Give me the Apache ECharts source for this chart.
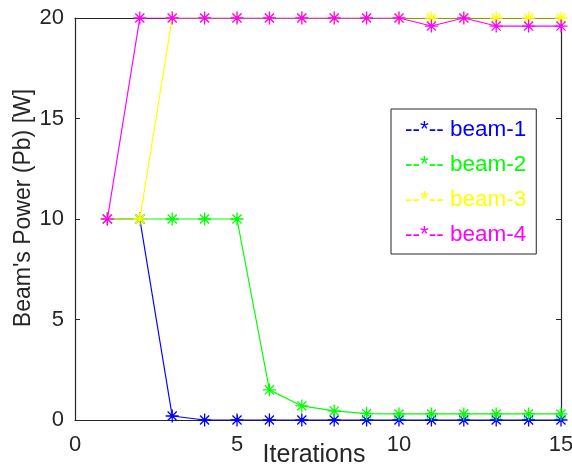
<!DOCTYPE html>
<html>
<head>
<meta charset="utf-8">
<script src="https://cdn.jsdelivr.net/npm/echarts@6/dist/echarts.min.js"></script>
<style>
  html, body { margin: 0; padding: 0; background: #fff; }
  #chart { width: 572px; height: 470px; }
</style>
</head>
<body>
<div id="chart"></div>
<script>
// iterations 1..15
const iterations = [1, 2, 3, 4, 5, 6, 7, 8, 9, 10, 11, 12, 13, 14, 15];
const beam1 = [10, 10, 0.2, 0, 0, 0, 0, 0, 0, 0, 0, 0, 0, 0, 0];
const beam2 = [10, 10, 10, 10, 10, 1.5, 0.7, 0.45, 0.32, 0.3, 0.3, 0.3, 0.3, 0.3, 0.3];
const beam3 = [10, 10, 20, 20, 20, 20, 20, 20, 20, 20, 20, 20, 20, 20, 20];
const beam4 = [10, 20, 20, 20, 20, 20, 20, 20, 20, 20, 19.6, 20, 19.6, 19.6, 19.6];
const beamNames = ['beam-1', 'beam-2', 'beam-3', 'beam-4'];
const beamColors = ['#0000ff', '#00ff00', '#ffff00', '#ff00ff'];
const beamValues = [beam1, beam2, beam3, beam4];

const font = 'Liberation Sans, Arial, sans-serif';
const axisColor = '#262626';
// matlab-style '*' marker
const star = 'path://M0,-10L0,10M-10,0L10,0M-7,-7L7,7M-7,7L7,-7';

const chart = echarts.init(document.getElementById('chart'));

const series = beamNames.map((name, i) => ({
  name: name,
  type: 'line',
  data: iterations.map((x, k) => [x, beamValues[i][k]]),
  symbol: star,
  symbolSize: 13,
  showAllSymbol: true,
  lineStyle: { color: beamColors[i], width: 1.2 },
  itemStyle: { color: beamColors[i], borderColor: beamColors[i], borderWidth: 1.3 },
  emphasis: { disabled: true },
  animation: false,
  z: 3 + i
}));

const tickLabel = { color: axisColor, fontFamily: font, fontSize: 22 };

chart.setOption({
  animation: false,
  backgroundColor: '#fff',
  grid: { left: 75, right: 11, top: 18, bottom: 50, outerBoundsMode: 'none', containLabel: false },
  legend: {
    orient: 'vertical',
    left: 391,
    top: 109,
    icon: 'none',
    itemWidth: 0,
    itemGap: 12,
    padding: [9, 10, 8, 9],
    borderColor: axisColor,
    borderWidth: 1,
    backgroundColor: '#fff',
    selectedMode: false,
    formatter: '--*-- {name}',
    textStyle: { fontFamily: font, fontSize: 22.5, padding: 0 },
    data: beamNames.map((n, i) => ({ name: n, textStyle: { color: beamColors[i] } }))
  },
  xAxis: [{
    type: 'value',
    min: 0, max: 15, interval: 5,
    name: 'Iterations',
    nameLocation: 'middle',
    nameGap: 23,
    nameMoveOverlap: false,
    nameTextStyle: { color: axisColor, fontFamily: font, fontSize: 25, padding: [0, 8, 0, 0] },
    axisLine: { show: true, lineStyle: { color: axisColor, width: 1.2 } },
    axisTick: { show: true, inside: true, length: 5, lineStyle: { color: axisColor } },
    axisLabel: Object.assign({ margin: 14 }, tickLabel),
    splitLine: { show: false }
  }, {
    type: 'value',
    position: 'top',
    min: 0, max: 15, interval: 5,
    axisLine: { show: true, onZero: false, lineStyle: { color: axisColor, width: 1.2 } },
    axisTick: { show: true, inside: true, length: 5, lineStyle: { color: axisColor } },
    axisLabel: { show: false },
    splitLine: { show: false }
  }],
  yAxis: [{
    type: 'value',
    min: 0, max: 20, interval: 5,
    name: "Beam's Power (Pb) [W]",
    nameLocation: 'middle',
    nameGap: 40,
    nameMoveOverlap: false,
    nameTextStyle: { color: axisColor, fontFamily: font, fontSize: 23, padding: [0, 0, 0, 22] },
    axisLine: { show: true, lineStyle: { color: axisColor, width: 1.2 } },
    axisTick: { show: true, inside: true, length: 5, lineStyle: { color: axisColor } },
    axisLabel: Object.assign({ margin: 11 }, tickLabel),
    splitLine: { show: false }
  }, {
    type: 'value',
    position: 'right',
    min: 0, max: 20, interval: 5,
    axisLine: { show: true, onZero: false, lineStyle: { color: axisColor, width: 1.2 } },
    axisTick: { show: true, inside: true, length: 5, lineStyle: { color: axisColor } },
    axisLabel: { show: false },
    splitLine: { show: false }
  }],
  series: series
});
</script>
</body>
</html>
